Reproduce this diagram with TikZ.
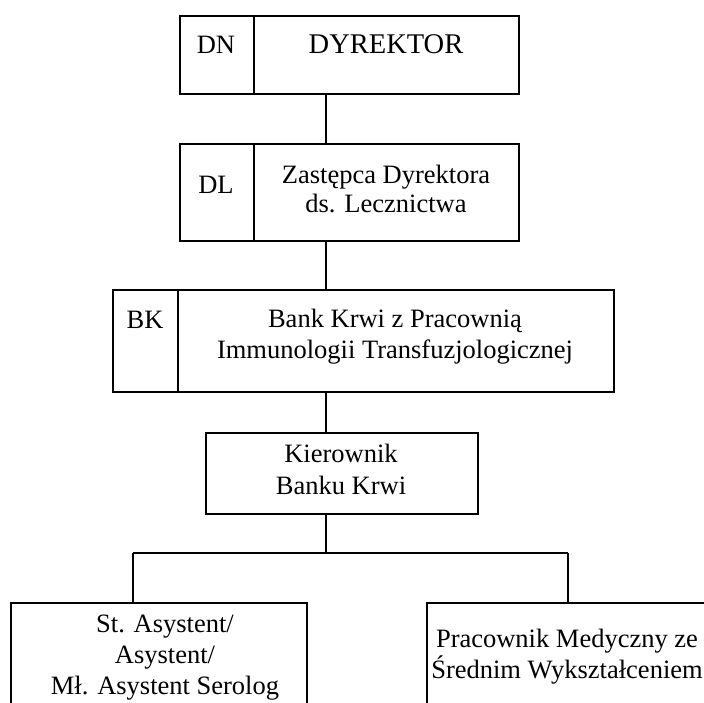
\documentclass[tikz,border=0pt]{standalone}
\usepackage{fontspec}
\setmainfont{Liberation Serif}
\begin{document}
\begin{tikzpicture}[x=1pt,y=-1pt,
  box/.style={draw, line width=1.7pt, inner sep=0pt, anchor=north west},
  txt/.style={font=\fontsize{26.5}{30.5}\selectfont, align=center, inner sep=0pt},
  conn/.style={line width=1.7pt}]
\clip (0,0) rectangle (704,702);
% boxes
\node[box, minimum width=74pt, minimum height=78pt] (dnb) at (179,15) {};
\node[box, minimum width=265pt, minimum height=78pt] (dyrb) at (253,15) {};
\node[box, minimum width=74pt, minimum height=97pt] (dlb) at (179,143) {};
\node[box, minimum width=265pt, minimum height=97pt] (zastb) at (253,143) {};
\node[box, minimum width=65pt, minimum height=102pt] (bkb) at (112,289) {};
\node[box, minimum width=436pt, minimum height=102pt] (bankb) at (177,289) {};
\node[box, minimum width=272pt, minimum height=81pt] (kierb) at (205,432) {};
\node[box, minimum width=296pt, minimum height=120pt] (astb) at (10,602) {};
\node[box, minimum width=300pt, minimum height=120pt] (pracb) at (426,602) {};
% texts
\node[txt, anchor=base] (dn) at (216,53) {DN};
\node[txt, anchor=base, font=\fontsize{28.5}{32}\selectfont] (dyr) at (386,53) {DYREKTOR};
\node[txt, anchor=base] (dl) at (216,193) {DL};
\node[txt, anchor=base] (zast1) at (386,183) {Zastępca Dyrektora};
\node[txt, anchor=base] (zast2) at (386,212) {ds. Lecznictwa};
\node[txt, anchor=base] (bk) at (145,328) {BK};
\node[txt, anchor=base] (bank1) at (395,327) {Bank Krwi z Pracownią};
\node[txt, anchor=base] (bank2) at (395,358) {Immunologii Transfuzjologicznej};
\node[txt, anchor=base] (kier1) at (341,462) {Kierownik};
\node[txt, anchor=base] (kier2) at (341,494) {Banku Krwi};
\node[txt, anchor=base] (ast1) at (165,632) {St. Asystent/};
\node[txt, anchor=base] (ast2) at (165,663) {Asystent/};
\node[txt, anchor=base] (ast3) at (165,694) {Mł. Asystent Serolog};
\node[txt, anchor=base] (prac1) at (567,647) {Pracownik Medyczny ze};
\node[txt, anchor=base] (prac2) at (567,678) {Średnim Wykształceniem};
% connectors
\coordinate (axis) at (326,0);
\coordinate (busL) at (133,553);
\coordinate (busR) at (568,553);
\draw[conn] (dyrb.south -| axis) -- (zastb.north -| axis);
\draw[conn] (zastb.south -| axis) -- (bankb.north -| axis);
\draw[conn] (bankb.south -| axis) -- (kierb.north -| axis);
\draw[conn] (kierb.south -| axis) -- (axis |- busL);
\draw[conn] (busL) -- (busR);
\draw[conn] (busL) -- (busL |- astb.north);
\draw[conn] (busR) -- (busR |- pracb.north);
\end{tikzpicture}
\end{document}
